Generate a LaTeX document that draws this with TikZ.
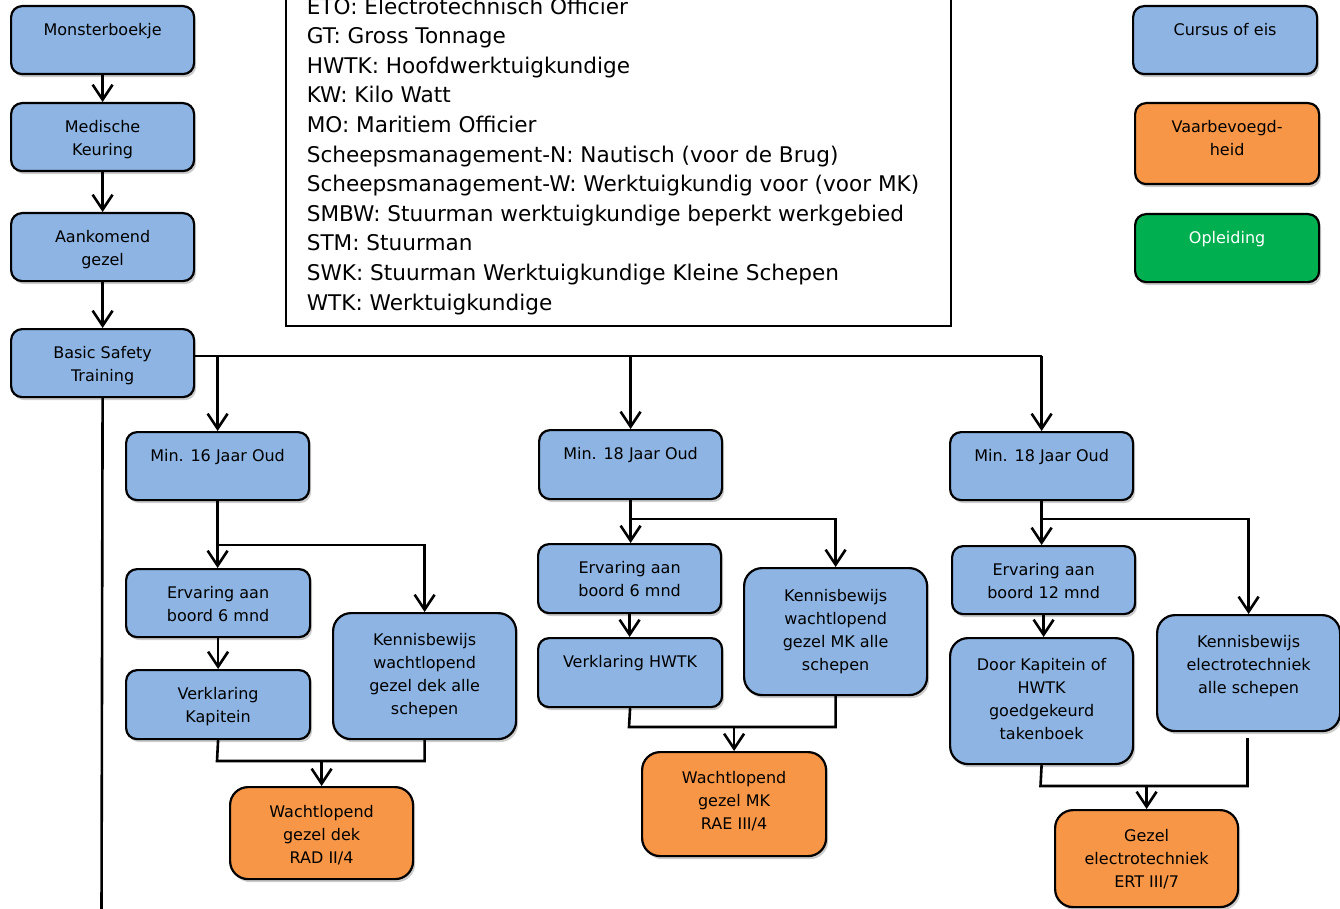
\documentclass[tikz,border=0pt]{standalone}
\usepackage{fontspec}
\setmainfont{DejaVu Sans}
\usetikzlibrary{arrows.meta,shadows}
\definecolor{boxblue}{RGB}{141,180,226}
\definecolor{boxorange}{RGB}{247,150,70}
\definecolor{boxgreen}{RGB}{0,176,80}
% name, left x, top y, width, height, style, first baseline offset, text
\newcommand\bxn[8]{\node[#6,anchor=north west] (#1) at (#2,#3) {\parbox[t][#5pt][t]{#4pt}{\centering\rule{0pt}{#7pt}#8}};}
\tikzset{
  box/.style={draw=black, line width=2.2pt, inner sep=0pt,
    font=\fontsize{16}{23}\selectfont,
    drop shadow={shadow xshift=2pt, shadow yshift=-3pt, opacity=0.2, fill=black}},
  rc/.style={rounded corners=11pt},
  rcbig/.style={rounded corners=18pt},
  cbox/.style={box, fill=boxblue},
  obox/.style={box, fill=boxorange},
  gbox/.style={box, fill=boxgreen, text=white},
  conn/.style={line width=2.6pt, draw=black},
  arr/.style={conn, -{Straight Barb[length=15pt,width=20pt]}},
  legend/.style={draw=black, line width=1.6pt, inner sep=0pt, fill=white,
    font=\fontsize{21.6}{29.6}\selectfont}
}
\begin{document}
\begin{tikzpicture}[x=1pt,y=-1pt]
\useasboundingbox (0,0) rectangle (1340,909);

% legend box (top cut off)
\node[legend, anchor=south west] (leg) at (285,327) {\parbox[b]{665pt}{\raggedright\leftskip=21pt
\rule{0pt}{45pt}ETO: Electrotechnisch Officier\\
GT: Gross Tonnage\\
HWTK: Hoofdwerktuigkundige\\
KW: Kilo Watt\\
MO: Maritiem Officier\\
Scheepsmanagement-N: Nautisch (voor de Brug)\\
Scheepsmanagement-W: Werktuigkundig voor (voor MK)\\
SMBW: Stuurman werktuigkundige beperkt werkgebied\\
STM: Stuurman\\
SWK: Stuurman Werktuigkundige Kleine Schepen\\
WTK: Werktuigkundige\rule[-16.2pt]{0pt}{0pt}}};

% left column
\bxn{mon}{10}{5}{183}{68}{cbox,rc}{29}{Monsterboekje}
\bxn{med}{10}{102}{183}{68}{cbox,rc}{29}{Medische\\Keuring}
\bxn{aan}{10}{212}{183}{68}{cbox,rc}{29}{Aankomend\\gezel}
\bxn{bst}{10}{328}{183}{68}{cbox,rc}{29}{Basic Safety\\Training}

% key boxes
\bxn{cur}{1132}{5}{184}{68}{cbox,rc}{29}{Cursus of eis}
\bxn{vaa}{1134}{102}{184}{81}{obox,rc}{29}{Vaarbevoegd-\\heid}
\bxn{opl}{1134}{213}{184}{68}{gbox,rc}{29}{Opleiding}

% branch 1
\bxn{min16}{125}{431}{183}{68}{cbox,rc}{29}{Min. 16 Jaar Oud}
\bxn{erv1}{125}{568}{184}{68}{cbox,rc}{29}{Ervaring aan\\boord 6 mnd}
\bxn{ver1}{125}{669}{184}{69}{cbox,rc}{29}{Verklaring\\Kapitein}
\bxn{ken1}{332}{612}{183}{126}{cbox,rcbig}{32}{Kennisbewijs\\wachtlopend\\gezel dek alle\\schepen}
\bxn{wd1}{229}{786}{183}{92}{obox,rcbig}{30}{Wachtlopend\\gezel dek\\RAD II/4}

% branch 2
\bxn{min18a}{538}{429}{183}{69}{cbox,rc}{29}{Min. 18 Jaar Oud}
\bxn{erv2}{537}{543}{183}{69}{cbox,rc}{29}{Ervaring aan\\boord 6 mnd}
\bxn{ver2}{537}{637}{184}{69}{cbox,rc}{29}{Verklaring HWTK}
\bxn{ken2}{743}{567}{183}{127}{cbox,rcbig}{33}{Kennisbewijs\\wachtlopend\\gezel MK alle\\schepen}
\bxn{wd2}{641}{751}{184}{104}{obox,rcbig}{31}{Wachtlopend\\gezel MK\\RAE III/4}

% branch 3
\bxn{min18b}{949}{431}{183}{68}{cbox,rc}{29}{Min. 18 Jaar Oud}
\bxn{erv3}{951}{545}{183}{68}{cbox,rc}{29}{Ervaring aan\\boord 12 mnd}
\bxn{door}{949}{637}{183}{126}{cbox,rcbig}{32}{Door Kapitein of\\HWTK\\goedgekeurd\\takenboek}
\bxn{ken3}{1156}{614}{183}{116}{cbox,rcbig}{32}{Kennisbewijs\\electrotechniek\\alle schepen}
\bxn{gez}{1054}{809}{183}{97}{obox,rcbig}{31}{Gezel\\electrotechniek\\ERT III/7}

% left column arrows
\draw[arr] (mon.south) -- (med.north);
\draw[arr] (med.south) -- (aan.north);
\draw[arr] (aan.south) -- (bst.north);
\coordinate (bend) at (101.5,915);
\draw[conn] (bst.south) -- (bend);

% trunk
\coordinate (t0) at ([yshift=7pt]bst.east);
\coordinate (t3) at (min18b.north |- t0);
\draw[conn] (t0) -- (t3);
\draw[arr] (min16.north |- t0) -- (min16.north);
\draw[arr] (min18a.north |- t0) -- (min18a.north);
\draw[arr] (t3) -- (min18b.north);

% branch 1 connectors
\coordinate (j1) at (216.5,545);
\draw[arr] (min16.south) -- (min16.south |- erv1.north);
\draw[arr] (j1) -| (ken1.north);
\draw[arr] (erv1.south) -- (erv1.south |- ver1.north);
\coordinate (m1) at (217,761);
\draw[conn] (ver1.south) -- (m1) -| (ken1.south);
\draw[arr] (wd1.north |- m1) -- (wd1.north);

% branch 2 connectors
\coordinate (j2) at (629.5,519);
\draw[arr] (min18a.south) -- (min18a.south |- erv2.north);
\draw[arr] (j2) -| (ken2.north);
\draw[arr] (erv2.south) -- (erv2.south |- ver2.north);
\coordinate (m2) at (629,727);
\draw[conn] (ver2.south) -- (m2) -| (ken2.south);
\draw[arr] (wd2.north |- m2) -- (wd2.north);

% branch 3 connectors
\coordinate (j3) at (1040.5,519);
\draw[arr] (min18b.south) -- (min18b.south |- erv3.north);
\draw[arr] (j3) -| (ken3.north);
\draw[arr] (erv3.south) -- (erv3.south |- door.north);
\coordinate (m3) at (1040.5,786);
\coordinate (k3e) at (1247.5,738);
\draw[conn] (door.south) -- (m3) -| (k3e);
\draw[arr] (gez.north |- m3) -- (gez.north);
\end{tikzpicture}
\end{document}
